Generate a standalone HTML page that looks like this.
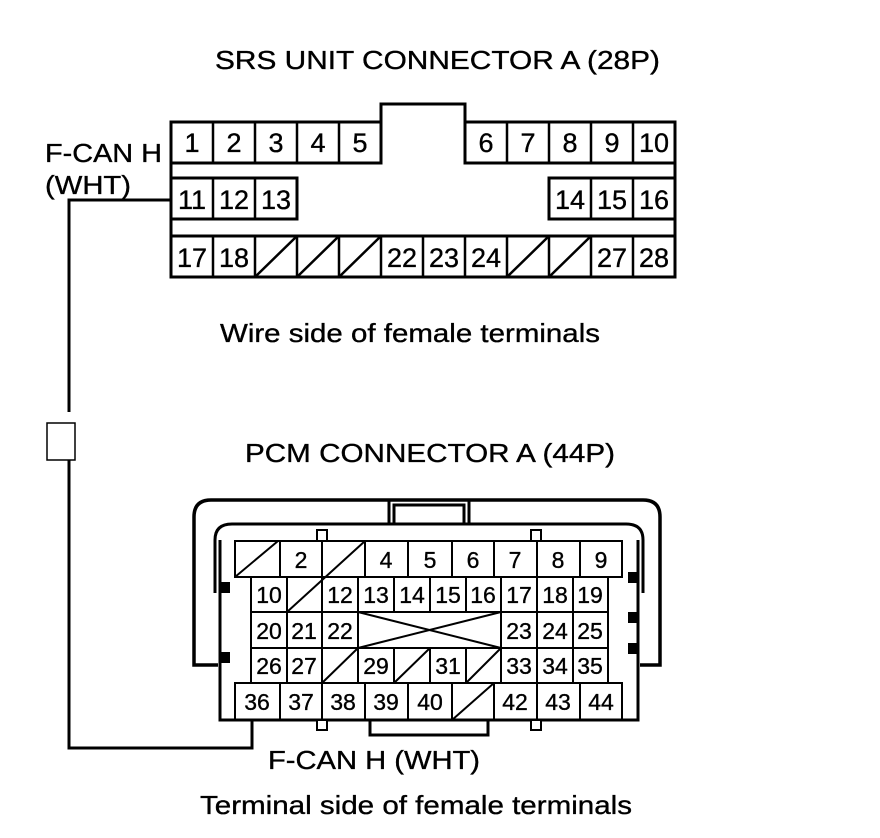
<!DOCTYPE html>
<html><head><meta charset="utf-8"><style>
html,body{margin:0;padding:0;background:#fff;}
svg{display:block;}
text{font-family:"Liberation Sans",Arial,sans-serif;fill:#000;stroke:#000;stroke-width:0.35;}
</style></head><body>
<svg width="880" height="838" viewBox="0 0 880 838" xmlns="http://www.w3.org/2000/svg">
<g font-size="26">
<text x="215" y="69" textLength="445" lengthAdjust="spacingAndGlyphs">SRS UNIT CONNECTOR A (28P)</text>
<text x="45" y="162" textLength="117" lengthAdjust="spacingAndGlyphs">F-CAN H</text>
<text x="45" y="194" textLength="86" lengthAdjust="spacingAndGlyphs">(WHT)</text>
<text x="220" y="342" textLength="380" lengthAdjust="spacingAndGlyphs">Wire side of female terminals</text>
<text x="245" y="462" textLength="370" lengthAdjust="spacingAndGlyphs">PCM CONNECTOR A (44P)</text>
<text x="268" y="769" textLength="212" lengthAdjust="spacingAndGlyphs">F-CAN H (WHT)</text>
<text x="200" y="814" textLength="432" lengthAdjust="spacingAndGlyphs">Terminal side of female terminals</text>
</g>
<g stroke="#000" stroke-width="3" fill="none">
<polyline points="171,200 69,200 69,412"/>
<polyline points="69,460 69,748 252,748 252,720"/>
</g>
<rect x="47" y="423" width="28" height="37" fill="#fff" stroke="#000" stroke-width="1.5"/>
<g stroke="#000" stroke-width="3" fill="none">
<path d="M171,122 H381 V104 H465 V122 H675 V277 H171 Z"/>
<path d="M171,163 H381 V122 M465,122 V163 H675"/>
<path d="M171,178 H297 V219 H171 M675,178 H549 V219 H675"/>
<path d="M171,236 H675"/>
</g>
<g stroke="#000" stroke-width="2.5" fill="none">
<path d="M213,122V163 M255,122V163 M297,122V163 M339,122V163 M507,122V163 M549,122V163 M591,122V163 M633,122V163"/>
<path d="M213,178V219 M255,178V219 M591,178V219 M633,178V219"/>
<path d="M213,236V277 M255,236V277 M297,236V277 M339,236V277 M381,236V277 M423,236V277 M465,236V277 M507,236V277 M549,236V277 M591,236V277 M633,236V277"/>
<path d="M255,277L297,236 M297,277L339,236 M339,277L381,236 M507,277L549,236 M549,277L591,236"/>
</g>
<g font-size="27" text-anchor="middle">
<text x="192" y="152">1</text><text x="234" y="152">2</text><text x="276" y="152">3</text><text x="318" y="152">4</text><text x="360" y="152">5</text>
<text x="486" y="152">6</text><text x="528" y="152">7</text><text x="570" y="152">8</text><text x="612" y="152">9</text><text x="654" y="152">10</text>
<text x="192" y="209">11</text><text x="234" y="209">12</text><text x="276" y="209">13</text>
<text x="570" y="209">14</text><text x="612" y="209">15</text><text x="654" y="209">16</text>
<text x="192" y="267">17</text><text x="234" y="267">18</text>
<text x="402" y="267">22</text><text x="444" y="267">23</text><text x="486" y="267">24</text>
<text x="612" y="267">27</text><text x="654" y="267">28</text>
</g>
<!-- PCM shell -->
<g stroke="#000" stroke-width="3.5" fill="none">
<path d="M218,665 H194 V517 Q194,500 211,500 H643 Q660,500 660,517 V665 H640"/>
</g>
<g stroke="#000" stroke-width="3" fill="none">
<path d="M389,500 V524 M469,500 V524"/>
<path d="M394,524 V505 H464 V524"/>
<path d="M215,593 V540 Q215,524 232,524 H626 Q643,524 643,540 V593"/>
<path d="M220,540 V720 H638 V540"/>
<path d="M370,720 V735 H488 V720"/>
</g>
<g fill="#fff" stroke="#000" stroke-width="2">
<rect x="317" y="530" width="10" height="11"/><rect x="531" y="530" width="10" height="11"/>
<rect x="317" y="720" width="10" height="10"/><rect x="531" y="720" width="10" height="10"/>
</g>
<g fill="#000">
<rect x="221" y="582" width="9" height="11"/><rect x="221" y="652" width="9" height="11"/>
<rect x="628" y="572" width="9" height="11"/><rect x="628" y="612" width="9" height="11"/><rect x="628" y="643" width="9" height="11"/>
</g>
<g stroke="#000" stroke-width="2" fill="none">
<rect x="235" y="541" width="387" height="36"/>
<path d="M280,541V577 M322,541V577 M365,541V577 M408,541V577 M452,541V577 M494,541V577 M537,541V577 M580,541V577"/>
<path d="M235,577L278,541 M287,612L365,541"/>
<rect x="251" y="577" width="357" height="106"/>
<path d="M251,612H358 M501,612H608 M251,648H358 M501,648H608 M358,612H501 M358,648H501"/>
<path d="M287,577V683 M322,577V683 M358,577V683 M501,577V683 M537,577V683 M573,577V683"/>
<path d="M394,577V612 M430,577V612 M466,577V612 M394,648V683 M430,648V683 M466,648V683"/>
<path d="M358,648L501,612 M358,612L501,648"/>
<path d="M322,683L358,648 M394,683L430,648 M466,683L501,648"/>
<rect x="235" y="683" width="387" height="37"/>
<path d="M280,683V720 M322,683V720 M365,683V720 M408,683V720 M452,683V720 M494,683V720 M537,683V720 M580,683V720"/>
<path d="M452,720L494,683"/>
</g>
<g font-size="23" text-anchor="middle">
<text x="301" y="568">2</text><text x="386" y="568">4</text><text x="430" y="568">5</text><text x="473" y="568">6</text><text x="515" y="568">7</text><text x="558" y="568">8</text><text x="601" y="568">9</text>
<text x="269" y="603">10</text><text x="340" y="603">12</text><text x="376" y="603">13</text><text x="412" y="603">14</text><text x="448" y="603">15</text><text x="483" y="603">16</text><text x="519" y="603">17</text><text x="555" y="603">18</text><text x="590" y="603">19</text>
<text x="269" y="639">20</text><text x="304" y="639">21</text><text x="340" y="639">22</text><text x="519" y="639">23</text><text x="555" y="639">24</text><text x="590" y="639">25</text>
<text x="269" y="674">26</text><text x="304" y="674">27</text><text x="376" y="674">29</text><text x="448" y="674">31</text><text x="519" y="674">33</text><text x="555" y="674">34</text><text x="590" y="674">35</text>
<text x="257" y="710">36</text><text x="301" y="710">37</text><text x="343" y="710">38</text><text x="386" y="710">39</text><text x="430" y="710">40</text><text x="515" y="710">42</text><text x="558" y="710">43</text><text x="601" y="710">44</text>
</g>
</svg>
</body></html>
